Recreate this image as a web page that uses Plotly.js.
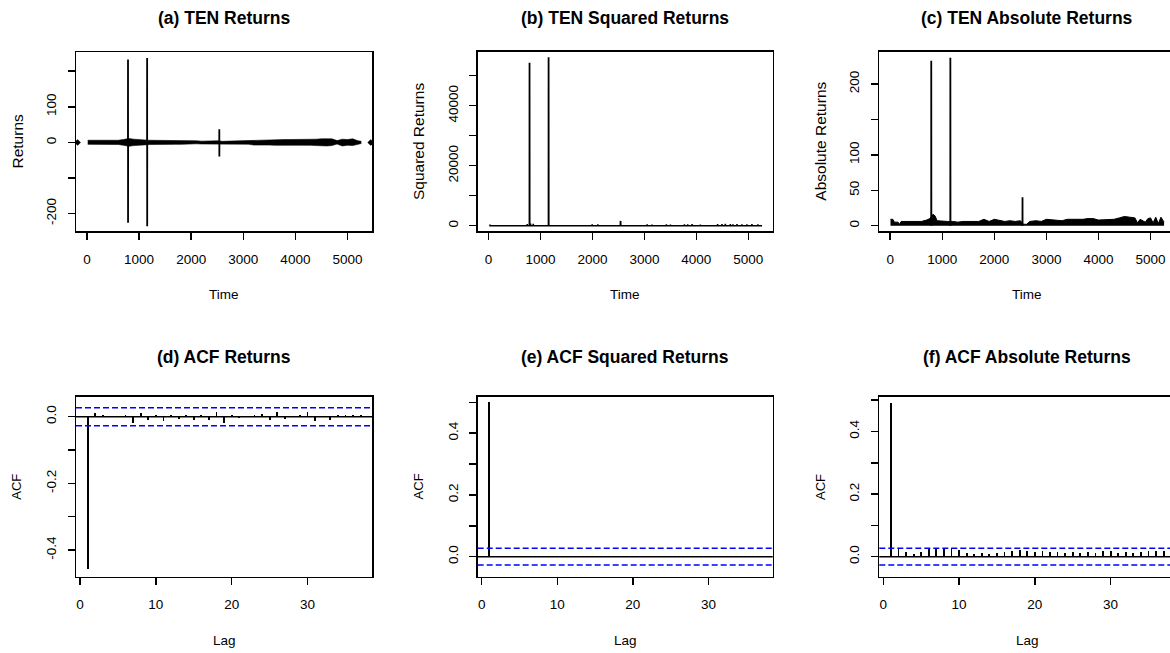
<!DOCTYPE html>
<html>
<head>
<meta charset="utf-8">
<script src="https://cdn.plot.ly/plotly-3.0.1.min.js"></script>
<style>
html, body { margin:0; padding:0; background:#fff; overflow:hidden; }
#chart { width:1175px; height:653px; }
</style>
</head>
<body>
<div id="chart"></div>
<script>
// ---------------- DATA ----------------
// Panel titles and axis labels
const panelTitles = ["(a) TEN Returns", "(b) TEN Squared Returns", "(c) TEN Absolute Returns",
                     "(d) ACF Returns", "(e) ACF Squared Returns", "(f) ACF Absolute Returns"];
const yTitles = ["Returns", "Squared Returns", "Absolute Returns", "ACF", "ACF", "ACF"];
const xTitles = ["Time", "Time", "Time", "Lag", "Lag", "Lag"];

// Large return spikes (time, upward value, following downward value)
const spikeTime = [788, 1155, 2540];
const spikeUp   = [233, 237, 37];
const spikeDown = [-226, -236, -40];

// Envelope of the dense returns band (panel a)
const retTime = [15,100,200,300,400,500,600,700,800,900,1000,1100,1200,1300,1400,1500,1600,1700,1800,1900,
                 2000,2100,2200,2300,2400,2500,2600,2700,2800,2900,3000,3100,3200,3300,3400,3500,3600,3700,3800,3900,
                 4000,4100,4200,4300,4400,4500,4600,4700,4800,4900,5000,5100,5200,5265];
const retHigh = [6,6,5,6,6,6,6,8,11,9,7,7,6,6,5.5,6,6,5.5,6,4.5,
                 4.5,4.5,3.5,4.5,4.5,4.5,3,3.5,4.5,4.5,4.5,5,7,7,7.5,8,7,7.5,8,8,
                 8,7.5,8,8,9,10,9,10,5,9,8,10,4.5,3];
const retLow  = [-5.5,-5.5,-5.5,-6,-5.5,-5.5,-6,-8,-11,-9,-7,-7,-6,-5.5,-6,-5.5,-6,-5.5,-5.5,-4.5,
                 -4.5,-4,-4.5,-4.5,-4,-4.5,-3.5,-5,-5,-5,-5,-5,-7.5,-7,-8,-7.5,-8,-7.5,-8,-7.5,
                 -8,-8,-7.5,-8,-9,-10,-10,-9,-4.5,-10,-8,-9,-5,-3];
// Isolated marks at the edges of panel (a)
const edgeTime  = [-180, 5445];
const edgeValue = [0, 0];

// Small visible squared-return ticks (panel b)
const sqTime  = [27,744,808,860,1994,2103,3052,3148,3424,3501,3770,3834,3917,4077,4410,4494,4558,4654,4705,4782,4878,4974,5070,5186];
const sqValue = [300,500,700,600,400,400,400,350,400,350,450,400,500,350,500,550,600,500,450,500,400,450,500,450];

// Envelope of the dense absolute-returns band (panel c)
const absTime = [5,50,80,150,180,210,300,400,500,600,700,760,820,860,900,1000,1100,1200,1300,1400,
                 1500,1600,1700,1800,1900,2000,2100,2200,2300,2400,2500,2560,2620,2680,2800,2900,3000,3100,3200,3300,
                 3400,3500,3600,3700,3800,3900,4000,4100,4200,4300,4400,4500,4600,4700,4750,4800,4900,4950,5000,5050,
                 5100,5150,5200,5260];
const absEnv  = [9,9,5,5,2,6,6,6,6,6,8,10,16,14,7,6,6,6,5,6,
                 6,6,6,9,6,9,8,6,7,6,7,2,2,6,7,6,9,8,8,7,
                 9,9,8,9,10,10,8,8,9,9,11,13,12,11,4,9,5,10,11,4,
                 12,3,12,5];

// ACF values, lags 1..37
const lags = [1,2,3,4,5,6,7,8,9,10,11,12,13,14,15,16,17,18,19,20,21,22,23,24,25,26,27,28,29,30,31,32,33,34,35,36,37];
const acfReturns = [-0.458,0.010,0.005,0.002,-0.002,0.005,-0.018,0.012,-0.010,0.005,-0.013,0.005,-0.006,0.005,-0.011,0.005,-0.011,0.015,-0.018,0.005,
                    -0.005,0.002,0.005,0.007,-0.010,0.015,-0.006,-0.002,0.005,0.015,-0.013,0.002,-0.010,0.005,0.005,0.005,0.005];
const acfSquared = [0.501,0.002,0.001,0.001,0.002,0.001,0.001,0.002,0.001,0.001,0.001,0.001,0.001,0.001,0.001,0.001,0.001,0.001,0.001,0.001,
                    0.001,0.001,0.001,0.001,0.001,0.001,0.001,0.001,0.001,0.001,0.001,0.001,0.001,0.001,0.001,0.001,0.001];
const acfAbsolute = [0.49,0.027,0.016,0.010,0.016,0.027,0.025,0.027,0.027,0.022,0.013,0.009,0.011,0.010,0.013,0.016,0.019,0.020,0.019,0.016,
                     0.019,0.016,0.016,0.013,0.016,0.013,0.016,0.013,0.019,0.019,0.013,0.016,0.011,0.016,0.019,0.019,0.019];
const ciBound = 0.027;

// Tick values / labels
const timeTicks = [0,1000,2000,3000,4000,5000];
const lagTicks = [0,10,20,30];
const yTickVals = [
  [-200,-100,0,100,200],
  [0,10000,20000,30000,40000,50000],
  [0,50,100,150,200],
  [-0.4,-0.3,-0.2,-0.1,0.0],
  [0,0.1,0.2,0.3,0.4,0.5],
  [0,0.1,0.2,0.3,0.4,0.5]
];
const yTickText = [
  ["-200","","0","100",""],
  ["0","","20000","","40000",""],
  ["0","50","100","","200"],
  ["-0.4","","-0.2","","0.0"],
  ["0.0","","0.2","","0.4",""],
  ["0.0","","0.2","","0.4",""]
];

// ---------------- LAYOUT GEOMETRY ----------------
const W = 1175, H = 653;
const boxes = [ // [left, right, top, bottom] in pixels
  [76, 372, 52, 231], [477.7, 772.7, 51.7, 231], [879.3, 1175, 51.7, 231],
  [76, 372, 396.7, 576.7], [477.7, 772.7, 396.7, 576.7], [879.3, 1175, 396.7, 576.7]
];
const xRanges = [[-210,5470],[-210,5470],[-210,5470],[-0.53,38.5],[-0.53,38.5],[-0.53,38.5]];
const yRanges = [[-249,254],[-1770,58000],[-7.5,245.6],[-0.48,0.06],[-0.065,0.518],[-0.064,0.511]];
const yTitleSizes = [15.5, 15.5, 15.5, 13, 13, 13];

const FONT = "Arial, 'Liberation Sans', sans-serif";
const BLACK = "#000000";

// ---------------- TRACES ----------------
const traces = [];
function spikePath(valFnUp, valFnDown) {
  const xs = [], ys = [];
  spikeTime.forEach((t, i) => {
    xs.push(t - 1, t, t + 1, t + 2, null);
    ys.push(0, valFnUp(spikeUp[i], spikeDown[i]), valFnDown(spikeUp[i], spikeDown[i]), 0, null);
  });
  return {x: xs, y: ys};
}

// (a) returns band
traces.push({x: retTime, y: retHigh, xaxis:'x', yaxis:'y', mode:'lines', line:{color:BLACK, width:0.6}, hoverinfo:'skip'});
traces.push({x: retTime, y: retLow, xaxis:'x', yaxis:'y', mode:'lines', fill:'tonexty', fillcolor:BLACK, line:{color:BLACK, width:0.6}, hoverinfo:'skip'});
let sp = spikePath((u,d)=>u, (u,d)=>d);
traces.push({x: sp.x, y: sp.y, xaxis:'x', yaxis:'y', mode:'lines', line:{color:BLACK, width:1.8}, connectgaps:false});
traces.push({x: edgeTime, y: edgeValue, xaxis:'x', yaxis:'y', mode:'markers', marker:{color:BLACK, size:5, symbol:'diamond'}});

// (b) squared returns
traces.push({x: [retTime[0], retTime[retTime.length-1]], y: [0, 0], xaxis:'x2', yaxis:'y2', mode:'lines', line:{color:BLACK, width:1.5}});
(function(){
  const xs = [], ys = [];
  sqTime.forEach((t,i)=>{ xs.push(t-4, t, t+4, null); ys.push(0, sqValue[i], 0, null); });
  traces.push({x: xs, y: ys, xaxis:'x2', yaxis:'y2', mode:'lines', line:{color:BLACK, width:1.5}});
})();
sp = spikePath((u,d)=>u*u, (u,d)=>d*d);
traces.push({x: sp.x, y: sp.y, xaxis:'x2', yaxis:'y2', mode:'lines', line:{color:BLACK, width:1.8}});

// (c) absolute returns
traces.push({x: absTime, y: absEnv, xaxis:'x3', yaxis:'y3', mode:'lines', fill:'tozeroy', fillcolor:BLACK, line:{color:BLACK, width:1}});
sp = spikePath((u,d)=>Math.abs(u), (u,d)=>Math.abs(d));
traces.push({x: sp.x, y: sp.y, xaxis:'x3', yaxis:'y3', mode:'lines', line:{color:BLACK, width:1.8}});

// (d)(e)(f) ACF bars
[acfReturns, acfSquared, acfAbsolute].forEach((vals, k) => {
  traces.push({type:'bar', x: lags, y: vals, width: 0.24, xaxis:'x'+(k+4), yaxis:'y'+(k+4),
               marker:{color:BLACK, line:{width:0}}});
});

// ---------------- AXES ----------------
const layout = {
  width: W, height: H,
  margin: {l:0, r:0, t:0, b:0},
  paper_bgcolor:'#ffffff', plot_bgcolor:'#ffffff',
  showlegend:false,
  font:{family:FONT, color:BLACK},
  annotations: [], shapes: [], bargap: 0
};

for (let k = 0; k < 6; k++) {
  const b = boxes[k];
  const sfx = k === 0 ? '' : String(k+1);
  const common = {
    showline:true, mirror:true, linecolor:BLACK, linewidth:1.5,
    ticks:'outside', ticklen:7, tickwidth:1.5, tickcolor:BLACK,
    showgrid:false, zeroline:false, fixedrange:true,
    tickfont:{family:FONT, size:13.5, color:BLACK}
  };
  layout['xaxis'+sfx] = Object.assign({}, common, {
    domain:[b[0]/W, Math.min(1, b[1]/W)], range:xRanges[k],
    anchor:'y'+sfx, tickmode:'array', tickvals: k < 3 ? timeTicks : lagTicks,
    ticktext: (k < 3 ? timeTicks : lagTicks).map(String),
    ticklabelstandoff: 8
  });
  layout['yaxis'+sfx] = Object.assign({}, common, {
    domain:[1 - b[3]/H, 1 - b[2]/H], range:yRanges[k],
    anchor:'x'+sfx, tickmode:'array', tickvals: yTickVals[k], ticktext: yTickText[k],
    tickangle:-90, ticklabelstandoff: 6
  });

  // panel title
  layout.annotations.push({xref:'paper', yref:'paper', x:(b[0]+b[1])/2/W, y:1 - (k<3 ? 18 : 356.7)/H,
    text: panelTitles[k], showarrow:false, xanchor:'center', yanchor:'middle',
    font:{family:FONT, size:17.5, color:BLACK, weight:700}});
  // x title
  layout.annotations.push({xref:'paper', yref:'paper', x:(b[0]+b[1])/2/W, y:1 - (b[3]+64)/H,
    text: xTitles[k], showarrow:false, xanchor:'center', yanchor:'middle',
    font:{family:FONT, size:13.5, color:BLACK}});
  // y title
  layout.annotations.push({xref:'paper', yref:'paper', x:(b[0]-59)/W, y:1 - (b[2]+b[3])/2/H,
    text: yTitles[k], showarrow:false, xanchor:'center', yanchor:'middle', textangle:-90,
    font:{family:FONT, size:yTitleSizes[k], color:BLACK}});

  if (k >= 3) {
    const xd = 'x'+sfx+' domain', yr = 'y'+sfx;
    layout.shapes.push({type:'line', xref:xd, yref:yr, x0:0, x1:1, y0:0, y1:0, line:{color:BLACK, width:1.5}});
    layout.shapes.push({type:'line', xref:xd, yref:yr, x0:0, x1:1, y0:ciBound, y1:ciBound, line:{color:'#0000FF', width:1.5, dash:'6px,3px'}});
    layout.shapes.push({type:'line', xref:xd, yref:yr, x0:0, x1:1, y0:-ciBound, y1:-ciBound, line:{color:'#0000FF', width:1.5, dash:'6px,3px'}});
  }
}

Plotly.newPlot('chart', traces, layout, {staticPlot:true, displayModeBar:false});
</script>
</body>
</html>
